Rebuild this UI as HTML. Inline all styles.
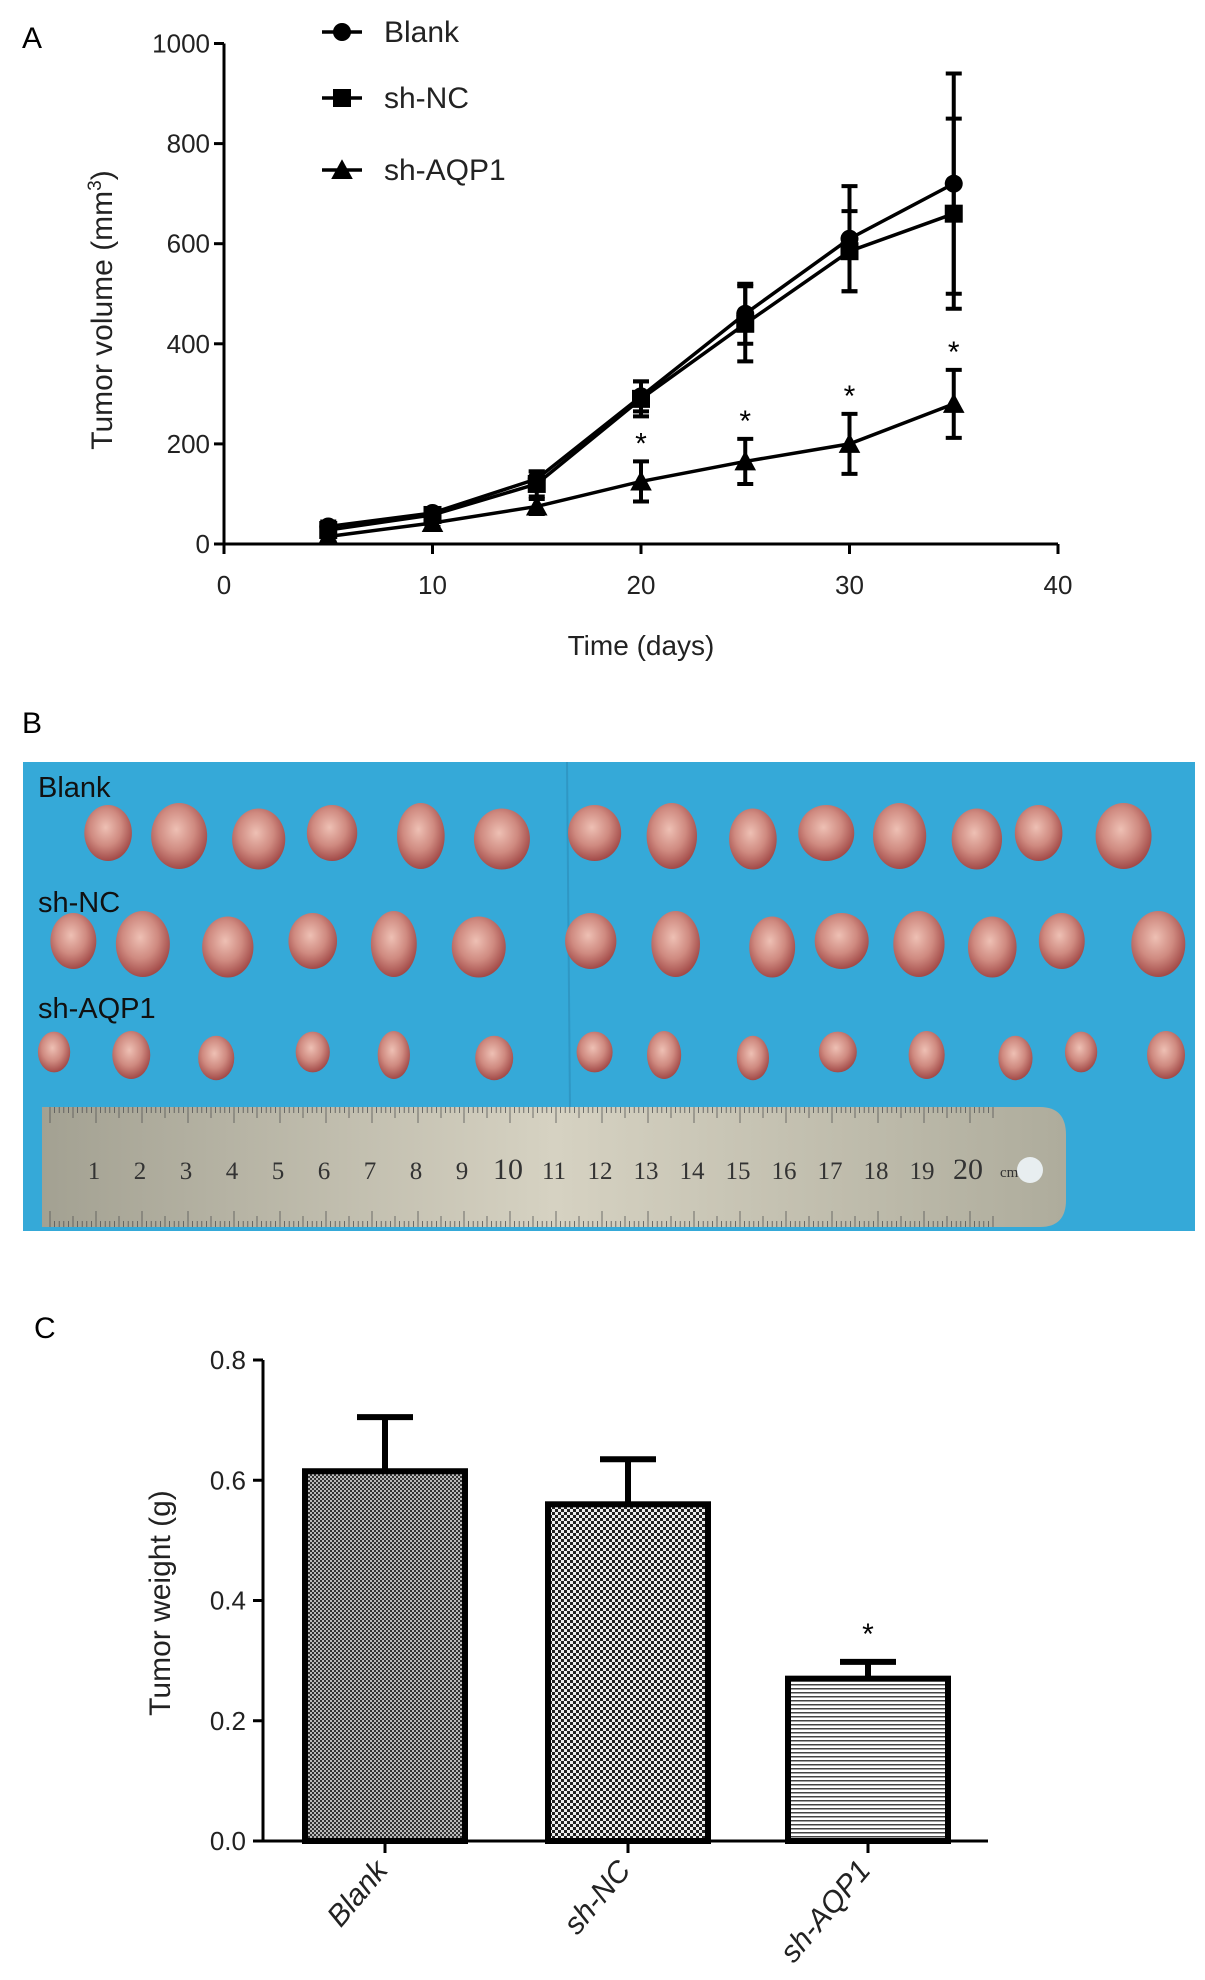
<!DOCTYPE html>
<html><head><meta charset="utf-8"><style>
body{margin:0;background:#fff;}
svg{display:block;font-family:"Liberation Sans",sans-serif;}
</style></head><body>
<svg id="fig" width="1205" height="1980" viewBox="0 0 1205 1980">
<defs>
<pattern id="pBlank" width="4" height="4" patternUnits="userSpaceOnUse"><rect width="4" height="4" fill="#bbb"/><rect width="2" height="2" fill="#333"/><rect x="2" y="2" width="2" height="2" fill="#333"/></pattern>
<pattern id="pNC" width="6" height="6" patternUnits="userSpaceOnUse"><rect width="6" height="6" fill="#eee"/><rect width="3" height="3" fill="#222"/><rect x="3" y="3" width="3" height="3" fill="#222"/></pattern>
<pattern id="pAQP" width="4" height="4" patternUnits="userSpaceOnUse"><rect width="4" height="4" fill="#fff"/><rect width="4" height="1.5" fill="#444"/></pattern>
<radialGradient id="tum" cx="45%" cy="40%" r="60%"><stop offset="0" stop-color="#eec0b4"/><stop offset="0.55" stop-color="#cf8a80"/><stop offset="1" stop-color="#a24a48"/></radialGradient>
<linearGradient id="rul" x1="0" x2="1" y1="0" y2="0"><stop offset="0" stop-color="#a3a192"/><stop offset="0.5" stop-color="#d6d2c2"/><stop offset="1" stop-color="#aeac9c"/></linearGradient>
</defs>
<g id="panelA"></g>
<g id="panelB"></g>
<g id="panelC"></g>
</svg>
<script>
// ---- Panel A data ----
const days = [5,10,15,20,25,30,35];
const blankVol = [35,62,130,295,460,610,720];
const blankErr = [10,10,15,30,60,105,220];
const ncVol = [28,58,120,290,440,585,660];
const ncErr = [10,10,25,35,75,80,190];
const aqpVol = [15,42,75,125,165,200,280];
const aqpErr = [10,8,15,40,45,60,68];
const aqpStar = [false,false,false,true,true,true,true];
const xTicksA = [0,10,20,30,40];
const yTicksA = [0,200,400,600,800,1000];
// ---- Panel C data ----
const groups = ['Blank','sh-NC','sh-AQP1'];
const weights = [0.615,0.56,0.27];
const weightErr = [0.09,0.075,0.028];
const weightStar = [false,false,true];
const yTicksC = [0.0,0.2,0.4,0.6,0.8];

const NS='http://www.w3.org/2000/svg';
function mk(parent,tag,attrs,text){const e=document.createElementNS(NS,tag);for(const k in attrs)e.setAttribute(k,attrs[k]);if(text!==undefined)e.textContent=text;parent.appendChild(e);return e;}

// Panel A
const A=document.getElementById('panelA');
const xA=v=>224+v*(1058-224)/40;
const yA=v=>544-v*(544-43.5)/1000;
let t;
t=mk(A,'text',{x:22,y:48,'font-size':30},'A');


let ax=mk(A,'path',{d:`M${xA(0)},${yA(1000)}V${yA(0)}H${xA(40)}`,stroke:'#000','stroke-width':3,fill:'none'});


yTicksA.forEach(v=>{
  mk(A,'line',{x1:xA(0)-10,x2:xA(0),y1:yA(v),y2:yA(v),stroke:'#000','stroke-width':3});
  const l=mk(A,'text',{x:xA(0)-14,y:yA(v)+9,'font-size':26,'text-anchor':'end',fill:'#222'},v);
  
  
});
xTicksA.forEach(v=>{
  mk(A,'line',{x1:xA(v),x2:xA(v),y1:yA(0),y2:yA(0)+10,stroke:'#000','stroke-width':3});
  const l=mk(A,'text',{x:xA(v),y:594,'font-size':26,'text-anchor':'middle',fill:'#222'},v);
  
  
});
t=mk(A,'text',{x:xA(20),y:655,'font-size':28,'text-anchor':'middle',fill:'#222'},'Time (days)');


t=mk(A,'text',{transform:'translate(112,310) rotate(-90)','font-size':30,'text-anchor':'middle',fill:'#222'});


t.innerHTML='Tumor volume (mm<tspan dy="-11" font-size="19">3</tspan><tspan dy="11">)</tspan>';

function marker(g,type,x,y,s){
  if(type==='circle')return mk(g,'circle',{cx:x,cy:y,r:s,fill:'#000'});
  if(type==='square')return mk(g,'rect',{x:x-s,y:y-s,width:2*s,height:2*s,fill:'#000'});
  return mk(g,'polygon',{points:`${x},${y-s*1.2} ${x-s*1.2},${y+s} ${x+s*1.2},${y+s}`,fill:'#000'});
}
function series(name,vals,errs,type){
  const g=mk(A,'g',{});
  
  
  mk(g,'polyline',{points:days.map((d,i)=>xA(d)+','+yA(vals[i])).join(' '),fill:'none',stroke:'#000','stroke-width':3.5});
  days.forEach((d,i)=>{
    const x=xA(d),y1=yA(vals[i]+errs[i]),y2=yA(vals[i]-errs[i]);
    const e=mk(g,'path',{d:`M${x},${y1}V${y2}M${x-8},${y1}H${x+8}M${x-8},${y2}H${x+8}`,stroke:'#000','stroke-width':4,fill:'none'});
    
    
    const m=marker(g,type,x,yA(vals[i]),9);
    
    
  });
}
series('blank',blankVol,blankErr,'circle');
series('sh-nc',ncVol,ncErr,'square');
series('sh-aqp1',aqpVol,aqpErr,'triangle');
days.forEach((d,i)=>{if(aqpStar[i]){
  const s=mk(A,'text',{x:xA(d),y:yA(aqpVol[i]+aqpErr[i])-8,'font-size':30,'text-anchor':'middle'},'*');
  
  
}});
[['Blank','circle',32],['sh-NC','square',98],['sh-AQP1','triangle',170]].forEach(([n,ty,y])=>{
  const g=mk(A,'g',{});
  
  
  mk(g,'line',{x1:322,x2:362,y1:y,y2:y,stroke:'#000','stroke-width':3.5});
  marker(g,ty,342,y,9);
  mk(g,'text',{x:384,y:y+10,'font-size':30,fill:'#222'},n);
});

// Panel B
const B=document.getElementById('panelB');
t=mk(B,'text',{x:22,y:733,'font-size':30},'B');


let bg=mk(B,'rect',{x:23,y:762,width:1172,height:469,fill:'#35a9d8'});


mk(B,'line',{x1:567,x2:570,y1:762,y2:1110,stroke:'#2f97c4','stroke-width':2});
const rows=[
 {lab:'Blank',ly:797,cy:836,xs:[140,232,335,430,545,650,770,870,975,1070,1165,1265,1345,1455],rx:28,ry:33},
 {lab:'sh-NC',ly:912,cy:944,xs:[95,185,295,405,510,620,765,875,1000,1090,1190,1285,1375,1500],rx:27,ry:33},
 {lab:'sh-AQP1',ly:1018,cy:1055,xs:[70,170,280,405,510,640,770,860,975,1085,1200,1315,1400,1510],rx:19,ry:24}];
rows.forEach(r=>{
  r.xs.forEach((zx,i)=>{
    const e=mk(B,'ellipse',{cx:zx/1.295,cy:r.cy+(i%3-1)*3,rx:r.rx*(0.85+0.15*((i*7)%4)/3),ry:r.ry*(0.85+0.15*((i*5)%3)/2),fill:'url(#tum)'});
    
    
  });
  const l=mk(B,'text',{x:38,y:r.ly,'font-size':29,fill:'#111'},r.lab);
  
  
});
const rg=mk(B,'g',{});


mk(rg,'path',{d:'M42,1107 H1040 Q1066,1107 1066,1135 V1200 Q1066,1227 1040,1227 H42 Z',fill:'url(#rul)'});
for(let mm=0;mm<=205;mm++){
  const x=50+mm*4.6;const h=mm%10===0?16:(mm%5===0?11:6);
  mk(rg,'line',{x1:x,x2:x,y1:1107,y2:1107+h,stroke:'#555','stroke-width':0.8});
  mk(rg,'line',{x1:x,x2:x,y1:1227,y2:1227-h,stroke:'#555','stroke-width':0.8});
}
for(let c=1;c<=20;c++){
  mk(rg,'text',{x:50+c*46-2,y:1179,'font-size':c===10||c===20?30:25,'text-anchor':'middle','font-family':'Liberation Serif,serif',fill:'#333'},c);
}
mk(rg,'text',{x:1000,y:1177,'font-size':15,'font-family':'Liberation Serif,serif',fill:'#333'},'cm');
mk(rg,'circle',{cx:1030,cy:1170,r:13,fill:'#e8eef0'});

// Panel C
const C=document.getElementById('panelC');
const yC=v=>1841-v*(1841-1360)/0.8;
const barX=[305,548,788], barW=160;
t=mk(C,'text',{x:34,y:1338,'font-size':30},'C');


ax=mk(C,'path',{d:`M263,${yC(0.8)}V${yC(0)}H988`,stroke:'#000','stroke-width':3,fill:'none'});


yTicksC.forEach(v=>{
  mk(C,'line',{x1:253,x2:263,y1:yC(v),y2:yC(v),stroke:'#000','stroke-width':3});
  const l=mk(C,'text',{x:246,y:yC(v)+9,'font-size':26,'text-anchor':'end',fill:'#222'},v.toFixed(1));
  
  
});
t=mk(C,'text',{transform:'translate(170,1603) rotate(-90)','font-size':30,'text-anchor':'middle',fill:'#222'},'Tumor weight (g)');


const pats=['url(#pBlank)','url(#pNC)','url(#pAQP)'];
groups.forEach((g,i)=>{
  const x=barX[i],cx=x+barW/2,top=yC(weights[i]),et=yC(weights[i]+weightErr[i]);
  const e=mk(C,'path',{d:`M${cx},${top}V${et}M${cx-28},${et}H${cx+28}`,stroke:'#000','stroke-width':6,fill:'none'});
  
  
  const b=mk(C,'rect',{x:x,y:top,width:barW,height:yC(0)-top,fill:pats[i],stroke:'#000','stroke-width':6});
  
  
  mk(C,'line',{x1:cx,x2:cx,y1:yC(0),y2:yC(0)+12,stroke:'#000','stroke-width':3});
  const l=mk(C,'text',{transform:`translate(${cx+4},${yC(0)+30}) rotate(-50)`,'font-size':30,'text-anchor':'end','font-style':'italic',fill:'#222'},g);
  
  
  if(weightStar[i]){
    const s=mk(C,'text',{x:cx,y:et-18,'font-size':30,'text-anchor':'middle'},'*');
    
    
  }
});
</script>
</body></html>
